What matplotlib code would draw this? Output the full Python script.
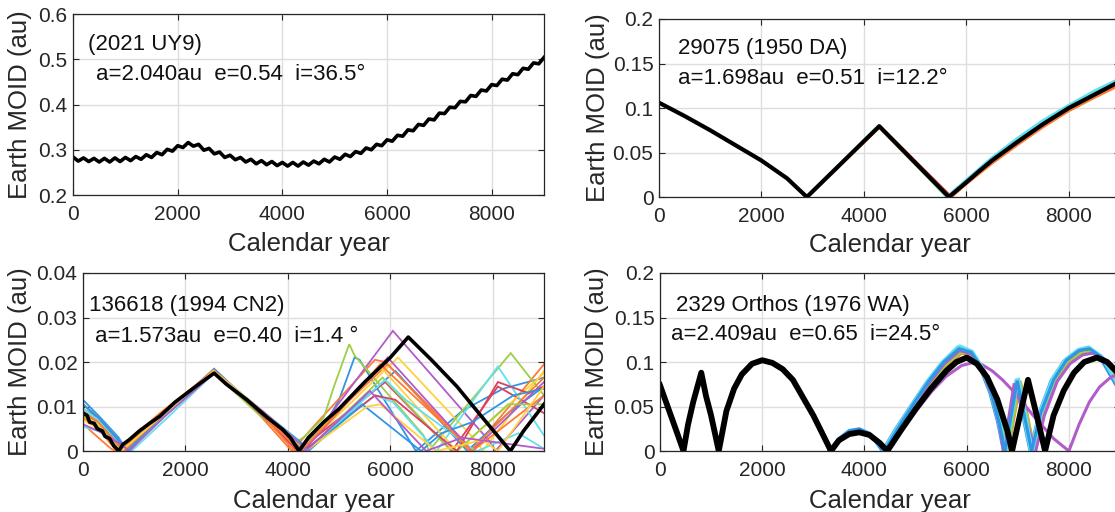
import matplotlib
matplotlib.use("Agg")
import matplotlib.pyplot as plt
from matplotlib.ticker import FuncFormatter

plt.rcParams['font.family'] = ['Liberation Sans', 'DejaVu Sans']

ink = '#262626'
palette = ['#2f96e6', '#ff7a33', '#ffd23c', '#b15cc9', '#9bcf46', '#dc3f5e', '#62e0f0']

year_ticks = [0, 2000, 4000, 6000, 8000]

# (2021 UY9): nominal orbit, sampled every 100 years
uy9_years = list(range(0, 9001, 100))
uy9_moid = [
    0.284, 0.275, 0.282, 0.274, 0.281, 0.273, 0.281, 0.273, 0.282, 0.274,
    0.283, 0.276, 0.285, 0.279, 0.289, 0.283, 0.294, 0.289, 0.301, 0.297,
    0.309, 0.305, 0.316, 0.308, 0.312, 0.299, 0.303, 0.291, 0.295, 0.283,
    0.288, 0.278, 0.283, 0.273, 0.279, 0.269, 0.276, 0.267, 0.274, 0.265,
    0.272, 0.264, 0.272, 0.264, 0.273, 0.266, 0.275, 0.269, 0.279, 0.273,
    0.284, 0.279, 0.290, 0.285, 0.296, 0.292, 0.304, 0.300, 0.312, 0.309,
    0.322, 0.319, 0.332, 0.330, 0.344, 0.342, 0.356, 0.354, 0.368, 0.366,
    0.381, 0.380, 0.394, 0.393, 0.407, 0.406, 0.420, 0.418, 0.432, 0.430,
    0.444, 0.442, 0.456, 0.454, 0.468, 0.466, 0.480, 0.478, 0.492, 0.490,
    0.504,
]

# 29075 (1950 DA)
da_years = [0, 500, 1000, 1500, 2000, 2500, 2887, 4300, 5660, 6000, 6250, 6500,
            7000, 7500, 8000, 8500, 9000]
da_moid = [0.106, 0.091, 0.075, 0.058, 0.041, 0.021, 0.0, 0.0795, 0.0, 0.0165,
           0.029, 0.041, 0.062, 0.082, 0.100, 0.115, 0.130]
da_clones = [
    [(2880, 0.0), (4290, 0.080), (5620, 0.0), (6000, 0.019), (6500, 0.044),
     (7000, 0.066), (7500, 0.086), (8000, 0.103), (8500, 0.119), (9000, 0.133)],
    [(2895, 0.0), (4310, 0.079), (5700, 0.0), (6000, 0.015), (6500, 0.038),
     (7000, 0.059), (7500, 0.079), (8000, 0.097), (8500, 0.112), (9000, 0.126)],
    [(4320, 0.079), (5700, 0.0)],
    [(4290, 0.079), (5640, 0.0)],
]
da_clone_colors = [palette[6], palette[1], palette[5], palette[2]]

# 136618 (1994 CN2)
cn2_years = [0, 80, 130, 220, 280, 380, 430, 520, 600, 700, 780, 900, 1100, 1300,
             1500, 1800, 2200, 2560, 2800, 3200, 3600, 3900, 4050, 4217, 4400, 4700,
             5000, 5500, 6000, 6350, 6800, 7300, 7800, 8343, 8600, 8800, 9000]
cn2_moid = [0.0085, 0.008, 0.0065, 0.0062, 0.005, 0.0045, 0.0033, 0.0028, 0.0012,
            0.0, 0.0015, 0.0025, 0.0045, 0.0062, 0.0078, 0.011, 0.0145, 0.0175,
            0.015, 0.0115, 0.0075, 0.0048, 0.003, 0.0, 0.003, 0.0065, 0.0095,
            0.0155, 0.021, 0.0256, 0.0205, 0.0145, 0.0075, 0.0, 0.0045, 0.0075, 0.0105]
cn2_clones = [
    [(0, 0.0115), (300, 0.008), (700, 0.003), (850, 0.0), (1600, 0.0085), (2560, 0.0185),
     (3400, 0.0095), (4100, 0.0015), (4200, 0.0), (4700, 0.0055), (5000, 0.0115),
     (5300, 0.021), (5400, 0.0205), (6500, 0.0), (7400, 0.009), (8200, 0.014), (9000, 0.0165)],
    [(0, 0.0062), (200, 0.004), (550, 0.0005), (650, 0.0), (1500, 0.0085), (2540, 0.0178),
     (3300, 0.01), (4000, 0.001), (4080, 0.0), (4500, 0.0055), (5700, 0.0205), (5900, 0.02),
     (7500, 0.0015), (7600, 0.0), (9000, 0.0195)],
    [(0, 0.0105), (300, 0.0075), (750, 0.002), (880, 0.0), (1600, 0.008), (2560, 0.018),
     (3400, 0.01), (4150, 0.0015), (4250, 0.0), (6150, 0.021), (7700, 0.002), (7800, 0.0),
     (9000, 0.018)],
    [(0, 0.009), (300, 0.006), (700, 0.001), (760, 0.0), (1600, 0.0085), (2550, 0.018),
     (3500, 0.008), (4200, 0.001), (4300, 0.0), (6050, 0.027), (7950, 0.002), (8050, 0.0),
     (9000, 0.0125)],
    [(0, 0.008), (300, 0.0055), (650, 0.001), (720, 0.0), (1600, 0.0085), (2560, 0.0175),
     (3500, 0.0075), (4150, 0.002), (4300, 0.003), (4700, 0.0075), (4900, 0.0145),
     (5150, 0.0225), (5200, 0.024), (5300, 0.0215), (6650, 0.0035), (6750, 0.0),
     (8350, 0.022), (9000, 0.0125)],
    [(0, 0.0095), (300, 0.0065), (700, 0.0015), (780, 0.0), (1600, 0.0085), (2560, 0.018),
     (3450, 0.0085), (4150, 0.0005), (4200, 0.0), (5900, 0.0155), (7200, 0.0),
     (8100, 0.0145), (8400, 0.0125), (9000, 0.0085)],
    [(0, 0.0055), (300, 0.0045), (800, 0.0015), (950, 0.0), (1650, 0.0075), (2560, 0.0175),
     (3500, 0.009), (4250, 0.0015), (4350, 0.0), (5700, 0.0125), (6050, 0.011), (6900, 0.0),
     (8100, 0.019), (9000, 0.0035)],
    [(0, 0.0095), (300, 0.0075), (750, 0.002), (900, 0.0), (1600, 0.008), (2550, 0.0178),
     (3500, 0.009), (4200, 0.0015), (4350, 0.0), (6100, 0.018), (7500, 0.0), (8300, 0.0085),
     (9000, 0.0145)],
    [(0, 0.0075), (300, 0.005), (600, 0.0008), (700, 0.0), (1600, 0.0088), (2550, 0.0182),
     (3400, 0.0095), (4050, 0.001), (4150, 0.0), (5950, 0.0195), (7550, 0.0), (9000, 0.0165)],
    [(0, 0.0085), (300, 0.006), (700, 0.0015), (820, 0.0), (1600, 0.0085), (2550, 0.0175),
     (3450, 0.009), (4100, 0.002), (4250, 0.0), (5800, 0.019), (7300, 0.0), (9000, 0.0175)],
    [(0, 0.0085), (300, 0.0065), (700, 0.0015), (800, 0.0), (1600, 0.008), (2550, 0.0178),
     (3500, 0.0085), (4200, 0.0015), (4300, 0.0), (5950, 0.021), (7600, 0.0), (9000, 0.0155)],
    [(0, 0.0095), (300, 0.0065), (650, 0.0015), (760, 0.0), (1600, 0.0085), (2550, 0.0178),
     (3500, 0.0085), (4200, 0.0015), (4350, 0.0), (5850, 0.0165), (7150, 0.0005),
     (7300, 0.0), (8300, 0.0105), (9000, 0.0105)],
    [(0, 0.0105), (300, 0.0075), (700, 0.002), (850, 0.0), (1600, 0.0085), (2550, 0.018),
     (3500, 0.0085), (4200, 0.001), (4300, 0.0), (5700, 0.0125), (6100, 0.0115),
     (7300, 0.0), (8100, 0.0155), (8700, 0.013), (9000, 0.0145)],
    [(0, 0.0095), (300, 0.007), (700, 0.002), (850, 0.0), (1600, 0.008), (2550, 0.0178),
     (3500, 0.0085), (4250, 0.0015), (4400, 0.0), (5900, 0.016), (6300, 0.0115),
     (7600, 0.0005), (7700, 0.0), (8500, 0.004), (9000, 0.0005)],
    [(0, 0.0105), (300, 0.0075), (720, 0.002), (860, 0.0), (1600, 0.0085), (2550, 0.018),
     (3500, 0.009), (4250, 0.002), (4400, 0.0), (5450, 0.0105), (6600, 0.0), (7000, 0.004),
     (7600, 0.0065), (8400, 0.0125), (9000, 0.014)],
    [(0, 0.0088), (300, 0.0065), (680, 0.0015), (790, 0.0), (1600, 0.0085), (2550, 0.0182),
     (3500, 0.0085), (4150, 0.001), (4250, 0.0), (5050, 0.0095), (5800, 0.0195),
     (7600, 0.0), (9000, 0.0125)],
    [(0, 0.007), (300, 0.005), (650, 0.001), (750, 0.0), (1600, 0.0085), (2550, 0.018),
     (3500, 0.009), (4200, 0.002), (4350, 0.0), (5550, 0.01), (5800, 0.0105), (6900, 0.0),
     (7800, 0.0025), (8100, 0.0), (9000, 0.0145)],
    [(0, 0.006), (300, 0.0045), (750, 0.0015), (900, 0.0), (1600, 0.0078), (2560, 0.0175),
     (3500, 0.009), (4250, 0.0015), (4350, 0.0), (5600, 0.0135), (6700, 0.0), (7400, 0.003),
     (9000, 0.0005)],
]

# 2329 Orthos (1976 WA)
wa_years = [0, 100, 200, 300, 460, 550, 650, 808, 900, 1000, 1150, 1300, 1450, 1600,
            1800, 2000, 2200, 2400, 2600, 2800, 3000, 3200, 3345, 3500, 3700, 3900,
            4100, 4300, 4446, 4700, 5000, 5300, 5600, 5800, 6000, 6200, 6400, 6600,
            6800, 6888, 7050, 7200, 7370, 7534, 7700, 7900, 8100, 8300, 8550, 8750, 9000]
wa_moid = [0.074, 0.058, 0.042, 0.026, 0.0, 0.030, 0.055, 0.088, 0.062, 0.040, 0.0,
           0.045, 0.070, 0.086, 0.098, 0.102, 0.099, 0.092, 0.080, 0.060, 0.040, 0.017,
           0.0, 0.012, 0.019, 0.021, 0.018, 0.009, 0.0, 0.022, 0.047, 0.070, 0.090,
           0.100, 0.105, 0.098, 0.083, 0.058, 0.022, 0.0, 0.042, 0.080, 0.040, 0.0,
           0.040, 0.068, 0.088, 0.100, 0.105, 0.100, 0.085]
wa_clones = [
    [(3330, 0.0), (3500, 0.013), (3700, 0.022), (3900, 0.024), (4100, 0.019), (4300, 0.007),
     (4400, 0.0), (4650, 0.025), (4950, 0.051), (5250, 0.077), (5550, 0.099), (5850, 0.116),
     (6100, 0.110), (6300, 0.093), (6500, 0.063), (6650, 0.030), (6760, 0.0), (7000, 0.080),
     (7280, 0.0), (7450, 0.042), (7700, 0.080), (7950, 0.102), (8200, 0.113), (8400, 0.116),
     (8650, 0.104), (9000, 0.078)],
    [(3310, 0.0), (3500, 0.014), (3700, 0.023), (3900, 0.025), (4100, 0.020), (4250, 0.008),
     (4350, 0.0), (4600, 0.024), (4900, 0.050), (5200, 0.076), (5500, 0.098), (5800, 0.114),
     (6050, 0.111), (6250, 0.095), (6450, 0.066), (6600, 0.034), (6720, 0.0), (6960, 0.078),
     (7240, 0.0), (7420, 0.043), (7650, 0.079), (7900, 0.101), (8150, 0.112), (8350, 0.116),
     (8600, 0.106), (9000, 0.066)],
    [(4420, 0.0), (4680, 0.024), (4980, 0.050), (5280, 0.076), (5580, 0.097), (5880, 0.112),
     (6120, 0.108), (6330, 0.091), (6530, 0.061), (6680, 0.029), (6790, 0.0), (7030, 0.079),
     (7310, 0.0), (7480, 0.041), (7730, 0.079), (7980, 0.100), (8230, 0.111), (8430, 0.113),
     (8680, 0.103), (9000, 0.080)],
    [(3360, 0.0), (3500, 0.011), (3700, 0.020), (3900, 0.022), (4100, 0.019), (4350, 0.007),
     (4450, 0.0), (4700, 0.023), (5000, 0.049), (5300, 0.074), (5600, 0.095), (5900, 0.110),
     (6150, 0.107), (6350, 0.090), (6550, 0.060), (6700, 0.028), (6810, 0.0), (7050, 0.078),
     (7330, 0.0), (7500, 0.040), (7750, 0.078), (8000, 0.099), (8250, 0.110), (8450, 0.112),
     (8700, 0.102), (9000, 0.082)],
    [(4380, 0.0), (4640, 0.024), (4940, 0.050), (5240, 0.076), (5540, 0.098), (5840, 0.113),
     (6080, 0.109), (6280, 0.093), (6480, 0.064), (6630, 0.032), (6740, 0.0), (6990, 0.080),
     (7260, 0.0), (7440, 0.043), (7690, 0.080), (7940, 0.101), (8190, 0.112), (8400, 0.114),
     (8650, 0.104), (9000, 0.076)],
    [(4430, 0.0), (4690, 0.024), (4990, 0.050), (5290, 0.075), (5590, 0.097), (5890, 0.111),
     (6130, 0.108), (6340, 0.090), (6540, 0.060), (6690, 0.028), (6800, 0.0), (7040, 0.079),
     (7320, 0.0), (7490, 0.041), (7740, 0.078), (7990, 0.099), (8240, 0.110), (8440, 0.112),
     (8690, 0.101), (9000, 0.079)],
    [(4360, 0.0), (4620, 0.025), (4920, 0.051), (5220, 0.078), (5520, 0.100), (5820, 0.117),
     (6060, 0.112), (6270, 0.095), (6470, 0.065), (6620, 0.033), (6730, 0.0), (6970, 0.081),
     (7250, 0.0), (7430, 0.044), (7680, 0.082), (7930, 0.103), (8180, 0.114), (8380, 0.117),
     (8630, 0.107), (9000, 0.070)],
    [(4400, 0.0), (4660, 0.024), (4960, 0.050), (5260, 0.076), (5560, 0.098), (5860, 0.113),
     (6100, 0.109), (6300, 0.092), (6500, 0.062), (6640, 0.030), (6720, 0.0), (6930, 0.076),
     (7350, 0.0), (7520, 0.040), (7770, 0.078), (8020, 0.098), (8270, 0.108), (8470, 0.110),
     (8720, 0.100), (9000, 0.085)],
    [(4400, 0.0), (4700, 0.021), (5000, 0.044), (5300, 0.066), (5600, 0.084), (5900, 0.096),
     (6100, 0.099), (6300, 0.097), (6500, 0.090), (6700, 0.080), (6900, 0.068), (7100, 0.054),
     (7300, 0.040), (7500, 0.027), (7700, 0.014), (8000, 0.0), (8200, 0.030), (8400, 0.055),
     (8600, 0.072), (8800, 0.082), (9000, 0.088)],
    [(4410, 0.0), (4670, 0.026), (4970, 0.053), (5270, 0.080), (5570, 0.102), (5870, 0.118),
     (6110, 0.112), (6310, 0.094), (6510, 0.064), (6660, 0.031), (6770, 0.0), (7010, 0.082),
     (7290, 0.0), (7460, 0.042), (7710, 0.081), (7960, 0.103), (8210, 0.114), (8410, 0.116),
     (8660, 0.105), (9000, 0.090)],
    [(4390, 0.0), (4650, 0.025), (4950, 0.052), (5250, 0.078), (5550, 0.100), (5850, 0.115),
     (6090, 0.111), (6290, 0.094), (6490, 0.064), (6640, 0.031), (6750, 0.0), (6990, 0.079),
     (7270, 0.0), (7450, 0.043), (7700, 0.080), (7950, 0.102), (8200, 0.113), (8400, 0.115),
     (8650, 0.105), (9000, 0.088)],
]
wa_clone_colors = [palette[6], palette[0], palette[2], palette[1], palette[5], palette[4],
                   palette[6], palette[3], palette[3], palette[6], palette[0]]


def style_axes(ax, ylim, yticks):
    ax.set_xlim(0, 9000)
    ax.set_ylim(*ylim)
    ax.set_xticks(year_ticks)
    ax.set_yticks(yticks)
    ax.yaxis.set_major_formatter(FuncFormatter(lambda v, _: f"{v:g}"))
    ax.grid(True, color='#dedede', lw=1.0)
    ax.set_axisbelow(True)
    ax.tick_params(direction='in', top=True, right=True, length=4, width=0.8,
                   colors=ink, labelsize=15, pad=4)
    ax.tick_params(axis='x', pad=7)
    for sp in ax.spines.values():
        sp.set_color(ink)
        sp.set_linewidth(0.9)
    ax.set_xlabel('Calendar year', fontsize=18.5, color=ink)
    ax.set_ylabel('Earth MOID (au)', fontsize=18.5, color=ink)
    ax.xaxis.label.set_va('center')
    ax.yaxis.label.set_va('center')


def label_orbit(ax, name, elements, pos1, pos2):
    ax.text(*pos1, name, transform=ax.transAxes, fontsize=16, va='center', color='#111111')
    ax.text(*pos2, elements, transform=ax.transAxes, fontsize=16, va='center', color='#111111')


def draw_clones(ax, clones, colors, lw):
    for k, pts in enumerate(clones):
        xs = [p[0] for p in pts]
        ys = [p[1] for p in pts]
        ax.plot(xs, ys, color=colors[k % len(colors)], lw=lw, solid_joinstyle='miter')


fig = plt.figure(figsize=(11.15, 5.12), dpi=100)

ax1 = fig.add_axes([0.0655, 0.6191, 0.4224, 0.3535])
ax2 = fig.add_axes([0.5910, 0.6152, 0.4135, 0.3477])
ax3 = fig.add_axes([0.0744, 0.1191, 0.4135, 0.3477])
ax4 = fig.add_axes([0.5919, 0.1191, 0.4126, 0.3477])

# top left
style_axes(ax1, (0.2, 0.6), [0.2, 0.3, 0.4, 0.5, 0.6])
ax1.plot(uy9_years, uy9_moid, color='black', lw=2.6)
label_orbit(ax1, '(2021 UY9)', 'a=2.040au  e=0.54  i=36.5°', (0.032, 0.834), (0.049, 0.668))
ax1.yaxis.set_label_coords(-0.113, 0.5)
ax1.xaxis.set_label_coords(0.5, -0.268)

# top right
style_axes(ax2, (0, 0.2), [0, 0.05, 0.1, 0.15, 0.2])
draw_clones(ax2, da_clones, da_clone_colors, 2.2)
ax2.plot(da_years, da_moid, color='black', lw=3.0)
label_orbit(ax2, '29075 (1950 DA)', 'a=1.698au  e=0.51  i=12.2°', (0.041, 0.837), (0.041, 0.663))
ax2.yaxis.set_label_coords(-0.132, 0.5)
ax2.xaxis.set_label_coords(0.5, -0.272)

# bottom left
style_axes(ax3, (0, 0.04), [0, 0.01, 0.02, 0.03, 0.04])
draw_clones(ax3, cn2_clones, palette, 1.3)
ax3.plot(cn2_years, cn2_moid, color='black', lw=2.6)
label_orbit(ax3, '136618 (1994 CN2)', 'a=1.573au  e=0.40  i=1.4 °', (0.013, 0.82), (0.026, 0.646))
ax3.yaxis.set_label_coords(-0.137, 0.5)
ax3.xaxis.set_label_coords(0.5, -0.278)

# bottom right
style_axes(ax4, (0, 0.2), [0, 0.05, 0.1, 0.15, 0.2])
draw_clones(ax4, wa_clones, wa_clone_colors, 2.2)
ax4.plot(wa_years, wa_moid, color='black', lw=4.2)
label_orbit(ax4, '2329 Orthos (1976 WA)', 'a=2.409au  e=0.65  i=24.5°', (0.035, 0.815), (0.024, 0.652))
ax4.yaxis.set_label_coords(-0.137, 0.5)
ax4.xaxis.set_label_coords(0.5, -0.278)

fig.savefig('out.png', dpi=100)
